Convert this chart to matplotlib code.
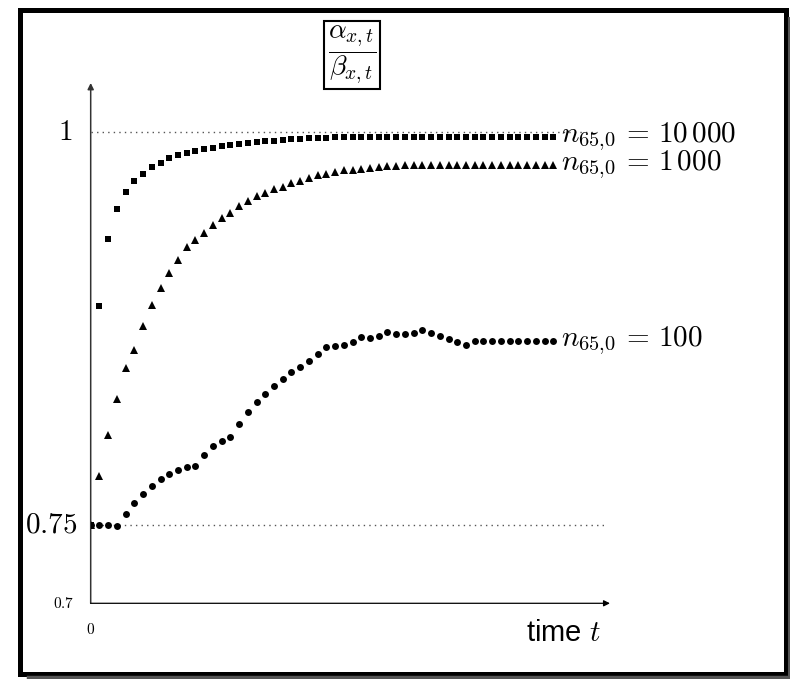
import matplotlib
matplotlib.use('Agg')
import matplotlib.pyplot as plt
import numpy as np
from matplotlib.patches import Rectangle
from matplotlib.lines import Line2D

plt.rcParams['mathtext.fontset'] = 'cm'

# ratio alpha/beta, one value per time step
t = np.arange(54)
ratio_10000 = [0.75, 0.8894, 0.932, 0.9511, 0.9617, 0.9689, 0.9736, 0.9777, 0.9806, 0.9834,
               0.9853, 0.987, 0.9883, 0.9895, 0.9901, 0.9912, 0.9921, 0.9927, 0.9933, 0.9939,
               0.9942, 0.9946, 0.995, 0.9954, 0.9958, 0.9961, 0.9963, 0.9965, 0.9967, 0.9969,
               0.997, 0.9972, 0.9972, 0.9972, 0.9972, 0.9972, 0.9972, 0.9972, 0.9972, 0.9972,
               0.9972, 0.9972, 0.9972, 0.9972, 0.9972, 0.9972, 0.9972, 0.9972, 0.9972, 0.9972,
               0.9972, 0.9972, 0.9972, 0.9972]
ratio_1000 = [0.75, 0.7808, 0.8074, 0.8301, 0.8499, 0.8616, 0.8769, 0.8897, 0.9005, 0.9103,
              0.9188, 0.9267, 0.9315, 0.936, 0.9411, 0.9452, 0.9483, 0.9528, 0.9562, 0.9596,
              0.9615, 0.9636, 0.9651, 0.9677, 0.9691, 0.971, 0.9728, 0.9736, 0.9749, 0.976,
              0.976, 0.9766, 0.9774, 0.9779, 0.9783, 0.9787, 0.9791, 0.9791, 0.9791, 0.9791,
              0.9791, 0.9791, 0.9791, 0.9791, 0.9791, 0.9791, 0.9791, 0.9791, 0.9791, 0.9791,
              0.9791, 0.9791, 0.9791, 0.9791]
ratio_100 = [0.75, 0.75, 0.75, 0.749, 0.7568, 0.7638, 0.7698, 0.7746, 0.7789, 0.7823,
             0.7848, 0.7865, 0.7874, 0.7944, 0.7999, 0.8036, 0.8057, 0.814, 0.8216, 0.8282,
             0.8335, 0.8386, 0.8429, 0.847, 0.8505, 0.8543, 0.8586, 0.8632, 0.8639, 0.8646,
             0.8665, 0.8696, 0.869, 0.8703, 0.8728, 0.8714, 0.8714, 0.872, 0.8739, 0.8724,
             0.8703, 0.8682, 0.8665, 0.8643, 0.8671, 0.8671, 0.8671, 0.8671, 0.8671, 0.8671,
             0.8671, 0.8671, 0.8671, 0.8671]
series_labels = [r'$n_{65{,}0}\,=\,10\,000$', r'$n_{65{,}0}\,=\,1\,000$', r'$n_{65{,}0}\,=\,100$']

fig = plt.figure(figsize=(7.9, 6.79), dpi=100)
ax = fig.add_axes([0.1148, 0.1115, 0.6573, 0.7663])
ax.set_xlim(0, 59.5)
ax.set_ylim(0.7, 1.0314)
ax.set_axis_off()

# axes as arrows
ax.annotate('', xy=(0, 1), xytext=(0, 0), xycoords='axes fraction',
            arrowprops=dict(arrowstyle='-|>', color='#333333', lw=1.1,
                            mutation_scale=9, shrinkA=0, shrinkB=0))
ax.annotate('', xy=(1, 0), xytext=(0, 0), xycoords='axes fraction',
            arrowprops=dict(arrowstyle='-|>', color='black', lw=0.9,
                            mutation_scale=9, shrinkA=0, shrinkB=0))

# dotted reference lines
ax.hlines([1.0, 0.75], 0, [58, 59], colors='#555555', lw=1, linestyles=[(0, (1, 3))], zorder=1)

ax.plot(t, ratio_10000, 's', color='black', ms=4.5, mew=0, zorder=3)
ax.plot(t, ratio_1000, '^', color='black', ms=5.2, mew=0, zorder=3)
ax.plot(t, ratio_100, 'o', color='black', ms=5, mew=0, zorder=3)

# series labels at the end of each series
for ys, lab in zip([ratio_10000, ratio_1000, ratio_100], series_labels):
    ax.text(53.9, ys[-1], lab, fontsize=21, ha='left', va='center', clip_on=False)

# tick labels
ax.text(-2.9, 1.0, '$1$', fontsize=21, ha='center', va='center', clip_on=False)
ax.text(-1.5, 0.75, '$0.75$', fontsize=21, ha='right', va='center', clip_on=False)
ax.text(-1.9, 0.7, '$0.7$', fontsize=11, ha='right', va='center', clip_on=False)
ax.text(0, 0.6835, '$0$', fontsize=11, ha='center', va='center', clip_on=False)
ax.text(58.5, 0.6813, 'time $t$', fontsize=21, family='Liberation Sans',
        ha='right', va='center', clip_on=False)

# boxed y label
fig.text(352 / 790, 1 - 55 / 679, r'$\dfrac{\alpha_{x,t}}{\beta_{x,t}}$', fontsize=20,
         ha='center', va='center',
         bbox=dict(boxstyle='square,pad=0.12', fc='white', ec='black', lw=1.5))

# frame with shadow
fig.patches.append(Rectangle((0.0253, 0.0074), 0.9696, 0.978, transform=fig.transFigure,
                             fill=False, ec='black', lw=3.6))
fig.lines.append(Line2D([28 / 790, 1], [2 / 679, 2 / 679], transform=fig.transFigure,
                        color='#555555', lw=2.5))
fig.lines.append(Line2D([788.5 / 790, 788.5 / 790], [0, 1 - 18 / 679], transform=fig.transFigure,
                        color='#555555', lw=1.5))

fig.savefig('out.png', dpi=100)
